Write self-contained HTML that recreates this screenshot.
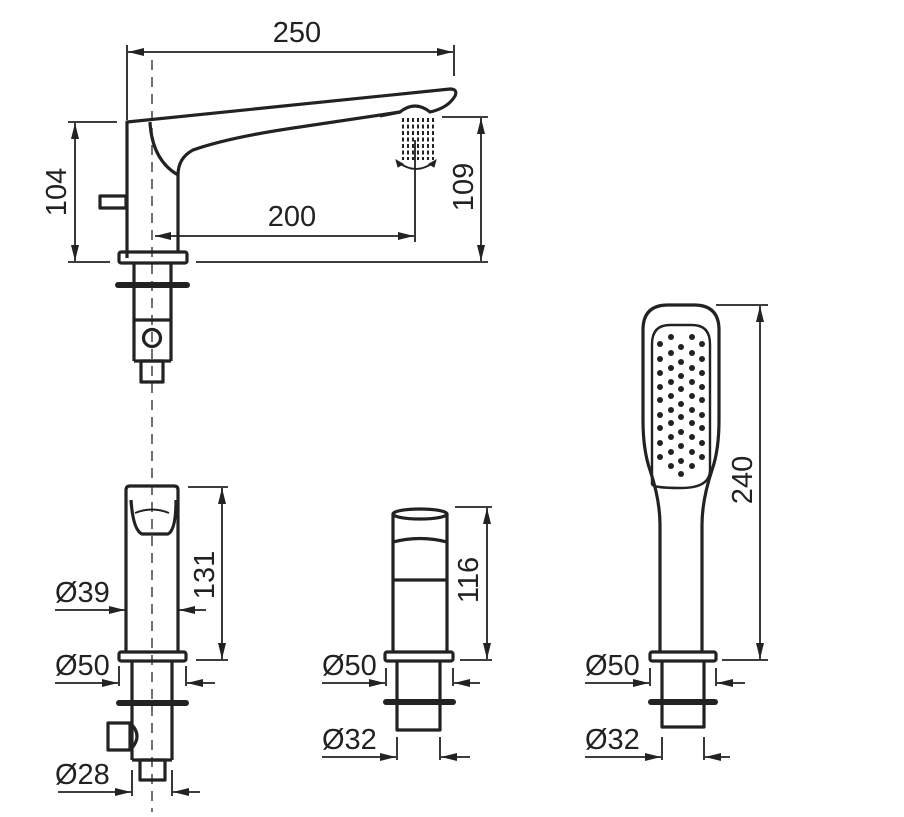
<!DOCTYPE html>
<html><head><style>
html,body{margin:0;padding:0;background:#fff;}
svg{display:block;}
text{font-family:"Liberation Sans","DejaVu Sans",sans-serif;font-size:29px;fill:#222;}
</style></head><body>
<svg width="904" height="817" viewBox="0 0 904 817" xmlns="http://www.w3.org/2000/svg">
<defs>
<marker id="a" viewBox="0 0 16 8" refX="16" refY="4" markerWidth="16" markerHeight="8" markerUnits="userSpaceOnUse" orient="auto-start-reverse"><path d="M0,0 L16,4 L0,8 Z" fill="#222"/></marker>
</defs>
<g stroke="#222" fill="none">
<!-- center dashed line -->
<line x1="152" y1="60" x2="152" y2="812" stroke-width="1.3" stroke-dasharray="10,7"/>

<!-- 250 dim -->
<g stroke-width="1.8">
<line x1="127" y1="45" x2="127" y2="120"/>
<line x1="454" y1="45" x2="454" y2="76"/>
<line x1="128" y1="52" x2="453" y2="52" marker-start="url(#a)" marker-end="url(#a)"/>
<!-- 104 dim -->
<line x1="68" y1="122" x2="117" y2="122"/>
<line x1="68" y1="262" x2="110" y2="262"/>
<line x1="75" y1="123" x2="75" y2="261" marker-start="url(#a)" marker-end="url(#a)"/>
<!-- 109 dim -->
<line x1="442" y1="117" x2="488" y2="117"/>
<line x1="196" y1="262" x2="488" y2="262"/>
<line x1="481" y1="118" x2="481" y2="261" marker-start="url(#a)" marker-end="url(#a)"/>
<!-- 200 dim -->
<line x1="415" y1="140" x2="415" y2="242"/>
<line x1="155" y1="236" x2="414" y2="236" marker-start="url(#a)" marker-end="url(#a)"/>
</g>

<!-- spout -->
<g stroke-width="3.2" stroke-linejoin="round">
<path d="M127,258 L127,122 L450,89 Q458,89 455,96 Q448,108 430,112 Q415,100 400,112 L 300,127 Q230,137 193,150 Q178,158 178,175 L178,252"/>
<path d="M150,122 Q152,160 178,175"/>
<path d="M400,112 L380,116"/>
<rect x="100" y="196" width="26" height="12"/>
<rect x="119" y="252" width="68" height="11" rx="2"/>
<path d="M134,263 L134,361 M171,263 L171,361 M134,320 L171,320 M134,361 L171,361"/>
<rect x="141" y="361" width="22" height="21"/>
<circle cx="152" cy="338" r="8.5"/>
</g>
<line x1="118" y1="285" x2="187" y2="285" stroke-width="6" stroke-linecap="round"/>
<!-- spray -->
<g stroke-width="2" stroke-dasharray="4,2.5">
<line x1="403" y1="118" x2="403" y2="160"/><line x1="408" y1="118" x2="408" y2="160"/>
<line x1="413" y1="118" x2="413" y2="160"/><line x1="418" y1="118" x2="418" y2="160"/>
<line x1="423" y1="118" x2="423" y2="160"/><line x1="428" y1="118" x2="428" y2="160"/>
<line x1="433" y1="118" x2="433" y2="160"/>
</g>
<path d="M398,162 Q416,176 434,162" stroke-width="1.8"/>
<path d="M396,160 l2,7 l5,-3 Z M436,160 l-2,7 l-5,-3 Z" fill="#222" stroke-width="1"/>

<!-- lower left -->
<g stroke-width="1.8">
<line x1="188" y1="487" x2="228" y2="487"/>
<line x1="196" y1="660" x2="228" y2="660"/>
<line x1="222" y1="488" x2="222" y2="659" marker-start="url(#a)" marker-end="url(#a)"/>
<line x1="55" y1="610" x2="125" y2="610" marker-end="url(#a)"/>
<line x1="206" y1="610" x2="179" y2="610" marker-end="url(#a)"/>
<line x1="119" y1="666" x2="119" y2="686"/><line x1="186" y1="666" x2="186" y2="686"/>
<line x1="55" y1="683" x2="118" y2="683" marker-end="url(#a)"/>
<line x1="215" y1="683" x2="187" y2="683" marker-end="url(#a)"/>
<line x1="132" y1="770" x2="132" y2="796"/><line x1="172" y1="770" x2="172" y2="796"/>
<line x1="58" y1="792" x2="131" y2="792" marker-end="url(#a)"/>
<line x1="200" y1="792" x2="173" y2="792" marker-end="url(#a)"/>
</g>
<g stroke-width="3.2" stroke-linejoin="round">
<path d="M126,652 L126,490 Q126,486 130,486 L174,486 Q178,486 178,490 L178,652"/>
<path d="M131,500 Q133,530 142,534 L168,534 Q176,530 176,500"/>
<path d="M135,513 Q152,506 169,513" stroke-width="2"/>
<rect x="119" y="652" width="67" height="9" rx="2"/>
<path d="M132,661 L132,760 M172,661 L172,760 M132,760 L172,760"/>
<rect x="140" y="760" width="25" height="20"/>
<rect x="108" y="723" width="22" height="27"/>
<path d="M132,725 Q142,736 132,748"/>
</g>
<line x1="119" y1="703" x2="186" y2="703" stroke-width="6" stroke-linecap="round"/>

<!-- middle -->
<g stroke-width="1.8">
<line x1="455" y1="507" x2="492" y2="507"/>
<line x1="460" y1="660" x2="492" y2="660"/>
<line x1="487" y1="508" x2="487" y2="659" marker-start="url(#a)" marker-end="url(#a)"/>
<line x1="386" y1="668" x2="386" y2="686"/><line x1="453" y1="668" x2="453" y2="686"/>
<line x1="322" y1="683" x2="385" y2="683" marker-end="url(#a)"/>
<line x1="480" y1="683" x2="454" y2="683" marker-end="url(#a)"/>
<line x1="397" y1="737" x2="397" y2="760"/><line x1="440" y1="737" x2="440" y2="760"/>
<line x1="322" y1="757" x2="396" y2="757" marker-end="url(#a)"/>
<line x1="470" y1="757" x2="441" y2="757" marker-end="url(#a)"/>
</g>
<g stroke-width="3.2" stroke-linejoin="round">
<path d="M393,652 L393,514 M447,514 L447,652"/>
<ellipse cx="420" cy="514" rx="27" ry="5"/>
<path d="M393,542 Q420,535 447,542"/>
<line x1="393" y1="580" x2="447" y2="580"/>
<rect x="385" y="652" width="68" height="9" rx="2"/>
<path d="M397,661 L397,730 L440,730 L440,661"/>
</g>
<line x1="386" y1="702" x2="453" y2="702" stroke-width="6" stroke-linecap="round"/>

<!-- right handshower -->
<g stroke-width="1.8">
<line x1="716" y1="305" x2="768" y2="305"/>
<line x1="722" y1="660" x2="768" y2="660"/>
<line x1="760" y1="306" x2="760" y2="659" marker-start="url(#a)" marker-end="url(#a)"/>
<line x1="650" y1="668" x2="650" y2="686"/><line x1="716" y1="668" x2="716" y2="686"/>
<line x1="585" y1="683" x2="649" y2="683" marker-end="url(#a)"/>
<line x1="745" y1="683" x2="717" y2="683" marker-end="url(#a)"/>
<line x1="662" y1="737" x2="662" y2="760"/><line x1="704" y1="737" x2="704" y2="760"/>
<line x1="585" y1="757" x2="661" y2="757" marker-end="url(#a)"/>
<line x1="730" y1="757" x2="705" y2="757" marker-end="url(#a)"/>
</g>
<g stroke-width="3.2" stroke-linejoin="round">
<path d="M660,652 L660,525 Q660,500 650,470 Q643,450 643,420 L643,330 Q643,305 668,305 L694,305 Q719,305 719,330 L719,420 Q719,450 712,470 Q702,500 702,525 L702,652"/>
<path d="M652,484 Q652,488 681,488 Q710,488 710,470 L710,344 Q710,325 692,325 L670,325 Q652,325 652,344 Z" stroke-width="2.4"/>
<rect x="650" y="652" width="66" height="9" rx="2"/>
<path d="M662,661 L662,727 L704,727 L704,661"/>
</g>
<line x1="651" y1="702" x2="715" y2="702" stroke-width="6" stroke-linecap="round"/>
</g>
<g fill="#222">
<circle cx="660" cy="344" r="3"/><circle cx="660" cy="359" r="3"/><circle cx="660" cy="373" r="3"/><circle cx="660" cy="387" r="3"/><circle cx="660" cy="400" r="3"/><circle cx="660" cy="415" r="3"/><circle cx="660" cy="428" r="3"/><circle cx="660" cy="443" r="3"/><circle cx="660" cy="457" r="3"/>
<circle cx="702" cy="344" r="3"/><circle cx="702" cy="359" r="3"/><circle cx="702" cy="373" r="3"/><circle cx="702" cy="387" r="3"/><circle cx="702" cy="400" r="3"/><circle cx="702" cy="415" r="3"/><circle cx="702" cy="428" r="3"/><circle cx="702" cy="443" r="3"/><circle cx="702" cy="457" r="3"/>
<circle cx="671" cy="337" r="3"/><circle cx="671" cy="353" r="3"/><circle cx="671" cy="368" r="3"/><circle cx="671" cy="382" r="3"/><circle cx="671" cy="396" r="3"/><circle cx="671" cy="410" r="3"/><circle cx="671" cy="423" r="3"/><circle cx="671" cy="437" r="3"/><circle cx="671" cy="452" r="3"/><circle cx="671" cy="466" r="3"/>
<circle cx="692" cy="337" r="3"/><circle cx="692" cy="353" r="3"/><circle cx="692" cy="368" r="3"/><circle cx="692" cy="382" r="3"/><circle cx="692" cy="396" r="3"/><circle cx="692" cy="410" r="3"/><circle cx="692" cy="423" r="3"/><circle cx="692" cy="437" r="3"/><circle cx="692" cy="452" r="3"/><circle cx="692" cy="466" r="3"/>
<circle cx="681" cy="347" r="3"/><circle cx="681" cy="362" r="3"/><circle cx="681" cy="376" r="3"/><circle cx="681" cy="389" r="3"/><circle cx="681" cy="404" r="3"/><circle cx="681" cy="417" r="3"/><circle cx="681" cy="432" r="3"/><circle cx="681" cy="446" r="3"/><circle cx="681" cy="461" r="3"/><circle cx="681" cy="474" r="3"/>
</g>

<!-- labels -->
<text x="297" y="42" text-anchor="middle">250</text>
<text x="292" y="226" text-anchor="middle">200</text>
<text transform="translate(66,192) rotate(-90)" text-anchor="middle">104</text>
<text transform="translate(473,187) rotate(-90)" text-anchor="middle">109</text>
<text transform="translate(214,575) rotate(-90)" text-anchor="middle">131</text>
<text transform="translate(478,580) rotate(-90)" text-anchor="middle">116</text>
<text transform="translate(752,480) rotate(-90)" text-anchor="middle">240</text>
<text x="55" y="602">Ø39</text>
<text x="55" y="675">Ø50</text>
<text x="55" y="784">Ø28</text>
<text x="322" y="675">Ø50</text>
<text x="322" y="749">Ø32</text>
<text x="585" y="675">Ø50</text>
<text x="585" y="749">Ø32</text>
</svg>
</body></html>
